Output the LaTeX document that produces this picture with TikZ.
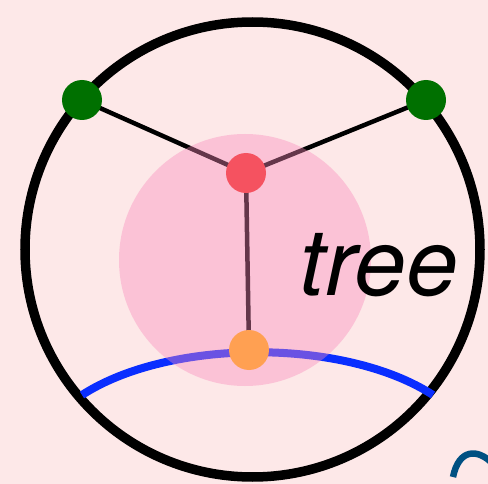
\documentclass[tikz,border=0pt]{standalone}
\usepackage{fontspec}
\setmainfont{TeX Gyre Heros}
\definecolor{bgpink}{RGB}{253,232,232}
\definecolor{dotgreen}{RGB}{0,112,0}
\definecolor{dotred}{RGB}{245,82,96}
\definecolor{dotorange}{RGB}{255,160,82}
\definecolor{halo}{RGB}{250,137,187}
\definecolor{arcblue}{RGB}{10,46,255}
\definecolor{deepblue}{RGB}{0,80,130}
\begin{document}
\begin{tikzpicture}[x=1pt,y=-1pt,
  dot/.style={circle,inner sep=0pt,minimum size=40pt},
  edge/.style={line width=4.5pt,black},
  rim/.style={line width=9.5pt,black}]
\fill[bgpink] (0,0) rectangle (488,484);
\useasboundingbox (0,0) rectangle (488,484);
% outer circle
\draw[rim] (252.5,249.5) circle[radius=227.5];
% connectors
\coordinate (gl) at (82,100);
\coordinate (gr) at (426,100);
\coordinate (rd) at (246,173);
\coordinate (or) at (249,350);
\draw[edge] (gl) -- (rd);
\draw[edge] (gr) -- (rd);
\draw[edge] (rd) -- (or);
% blue arc
\coordinate (bl) at (82,395);
\coordinate (br) at (433,395);
\draw[arcblue,line width=8pt] (bl) .. controls (170,338) and (345,338) .. (br);
% green dots
\node[dot,fill=dotgreen] (ngl) at (gl) {};
\node[dot,fill=dotgreen] (ngr) at (gr) {};
% pink halo
\fill[halo,fill opacity=0.4] (245,260) circle[radius=126];
% red and orange dots
\node[dot,fill=dotred] (nrd) at (rd) {};
\node[dot,fill=dotorange] (nor) at (or) {};
% label
\node[anchor=base west,inner sep=0pt,font=\fontsize{93}{93}\selectfont\itshape] (lbl) at (299,295) {tree};
% partial arc at bottom right
\coordinate (da) at (453,477);
\coordinate (db) at (492,463);
\draw[deepblue,line width=6.5pt] (da) .. controls (459,448) and (478,449) .. (db);
\end{tikzpicture}
\end{document}
